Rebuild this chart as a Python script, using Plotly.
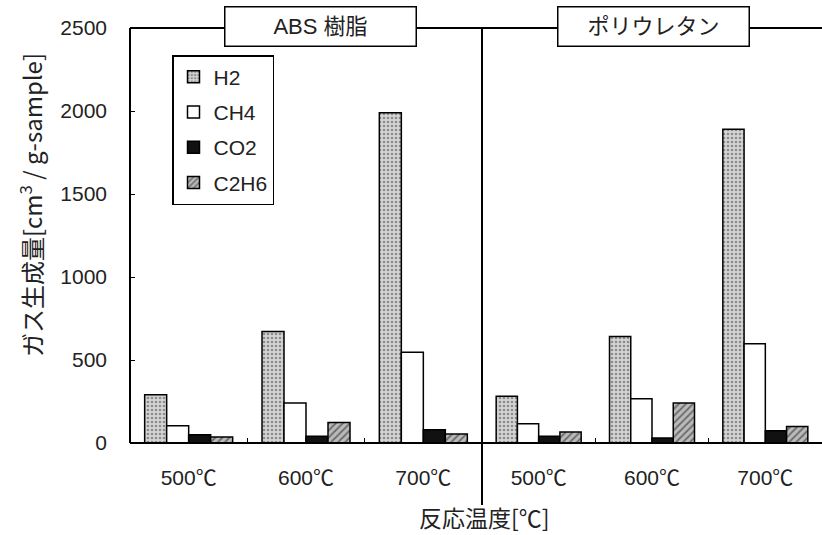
import plotly.graph_objects as go

temps = ["500℃", "600℃", "700℃"]
gases = ["H2", "CH4", "CO2", "C2H6"]
abs_vals = {
    "H2": [290, 672, 1990],
    "CH4": [104, 241, 546],
    "CO2": [50, 40, 80],
    "C2H6": [36, 124, 54],
}
pu_vals = {
    "H2": [281, 642, 1890],
    "CH4": [116, 267, 598],
    "CO2": [40, 30, 74],
    "C2H6": [66, 241, 100],
}
panel_titles = ["ABS 樹脂", "ポリウレタン"]

styles = {
    "H2": dict(color="#d0d0d0", pattern=dict(shape=".", fgcolor="#444", bgcolor="#d4d4d4", size=4, solidity=0.35)),
    "CH4": dict(color="white"),
    "CO2": dict(color="#111"),
    "C2H6": dict(color="#aaa", pattern=dict(shape="/", fgcolor="#222", bgcolor="#bbb", size=5, solidity=0.4)),
}

FONT = "Liberation Sans, Arial, Noto Sans CJK JP"
fig = go.Figure()
for i, g in enumerate(gases):
    st = styles[g]
    fig.add_trace(go.Bar(x=temps, y=abs_vals[g], name=g, legendgroup=g,
                         marker=dict(line=dict(color="black", width=1.5), **st),
                         xaxis="x", yaxis="y"))
    fig.add_trace(go.Bar(x=temps, y=pu_vals[g], name=g, legendgroup=g, showlegend=False,
                         marker=dict(line=dict(color="black", width=1.5), **st),
                         xaxis="x2", yaxis="y"))

split = (482 - 130) / 692
axis_common = dict(tickson="boundaries", ticks="inside", ticklen=5, tickcolor="black",
                   showline=False, showgrid=False, ticklabelstandoff=20,
                   tickfont=dict(family=FONT, size=21, color="#222"))
fig.update_layout(
    width=822, height=535,
    margin=dict(l=130, r=0, t=28, b=92),
    paper_bgcolor="white", plot_bgcolor="white",
    barmode="group", bargap=0.25, bargroupgap=0,
    font=dict(family=FONT, color="#222"),
    xaxis=dict(domain=[0, split], automargin=False, **axis_common),
    xaxis2=dict(domain=[split, 1], anchor="y", automargin=False, **axis_common),
    yaxis=dict(range=[0, 2500], tickvals=[0, 500, 1000, 1500, 2000, 2500],
               ticks="inside", ticklen=5, tickcolor="black", showgrid=False,
               showline=False, zeroline=False, ticklabelstandoff=22, automargin=False,
               tickfont=dict(family=FONT, size=21, color="#222")),
    legend=dict(x=(172 - 130) / 692, y=1 - (55 - 28) / 415, xanchor="left", yanchor="top",
                bordercolor="black", borderwidth=1.5, bgcolor="white",
                font=dict(family=FONT, size=21, color="#222"), tracegroupgap=5),
    showlegend=True,
)

line = dict(color="black", width=2)
fig.add_shape(type="line", xref="paper", yref="paper", x0=0, x1=1, y0=1, y1=1, line=line)
fig.add_shape(type="line", xref="paper", yref="paper", x0=0, x1=0, y0=0, y1=1, line=line)
fig.add_shape(type="line", xref="paper", yref="paper", x0=0, x1=1, y0=0, y1=0, line=line)
fig.add_shape(type="line", xref="paper", yref="paper", x0=split, x1=split,
              y0=-(505 - 443) / 415, y1=1, line=line)

for cx, t in zip([(320 - 130) / 692, (653 - 130) / 692], panel_titles):
    fig.add_annotation(x=cx, y=1 + 2 / 415, xref="paper", yref="paper", text=t,
                       xanchor="center", yanchor="middle",
                       showarrow=False, width=188, height=36, bgcolor="white",
                       bordercolor="black", borderwidth=1.5,
                       font=dict(family="Liberation Sans, Arial, Noto Sans CJK JP", size=22, color="#222"))

fig.add_annotation(x=(484 - 130) / 692, y=-(517 - 443) / 415, xref="paper", yref="paper",
                   text="反応温度[℃]", showarrow=False, xanchor="center", yanchor="middle",
                   font=dict(family="Noto Sans CJK JP", size=23, color="#222"))
fig.add_annotation(x=-(130 - 31) / 692, y=1 - (205 - 28) / 415, xref="paper", yref="paper",
                   text="ガス生成量[cm<sup>3</sup> / g-sample]", textangle=-90, showarrow=False,
                   xanchor="center", yanchor="middle",
                   font=dict(family="Noto Sans CJK JP", size=24, color="#222"))

fig.write_html("out.html", config={"displayModeBar": False},
               post_script="document.body.style.margin='0px';document.body.style.overflow='hidden';")
